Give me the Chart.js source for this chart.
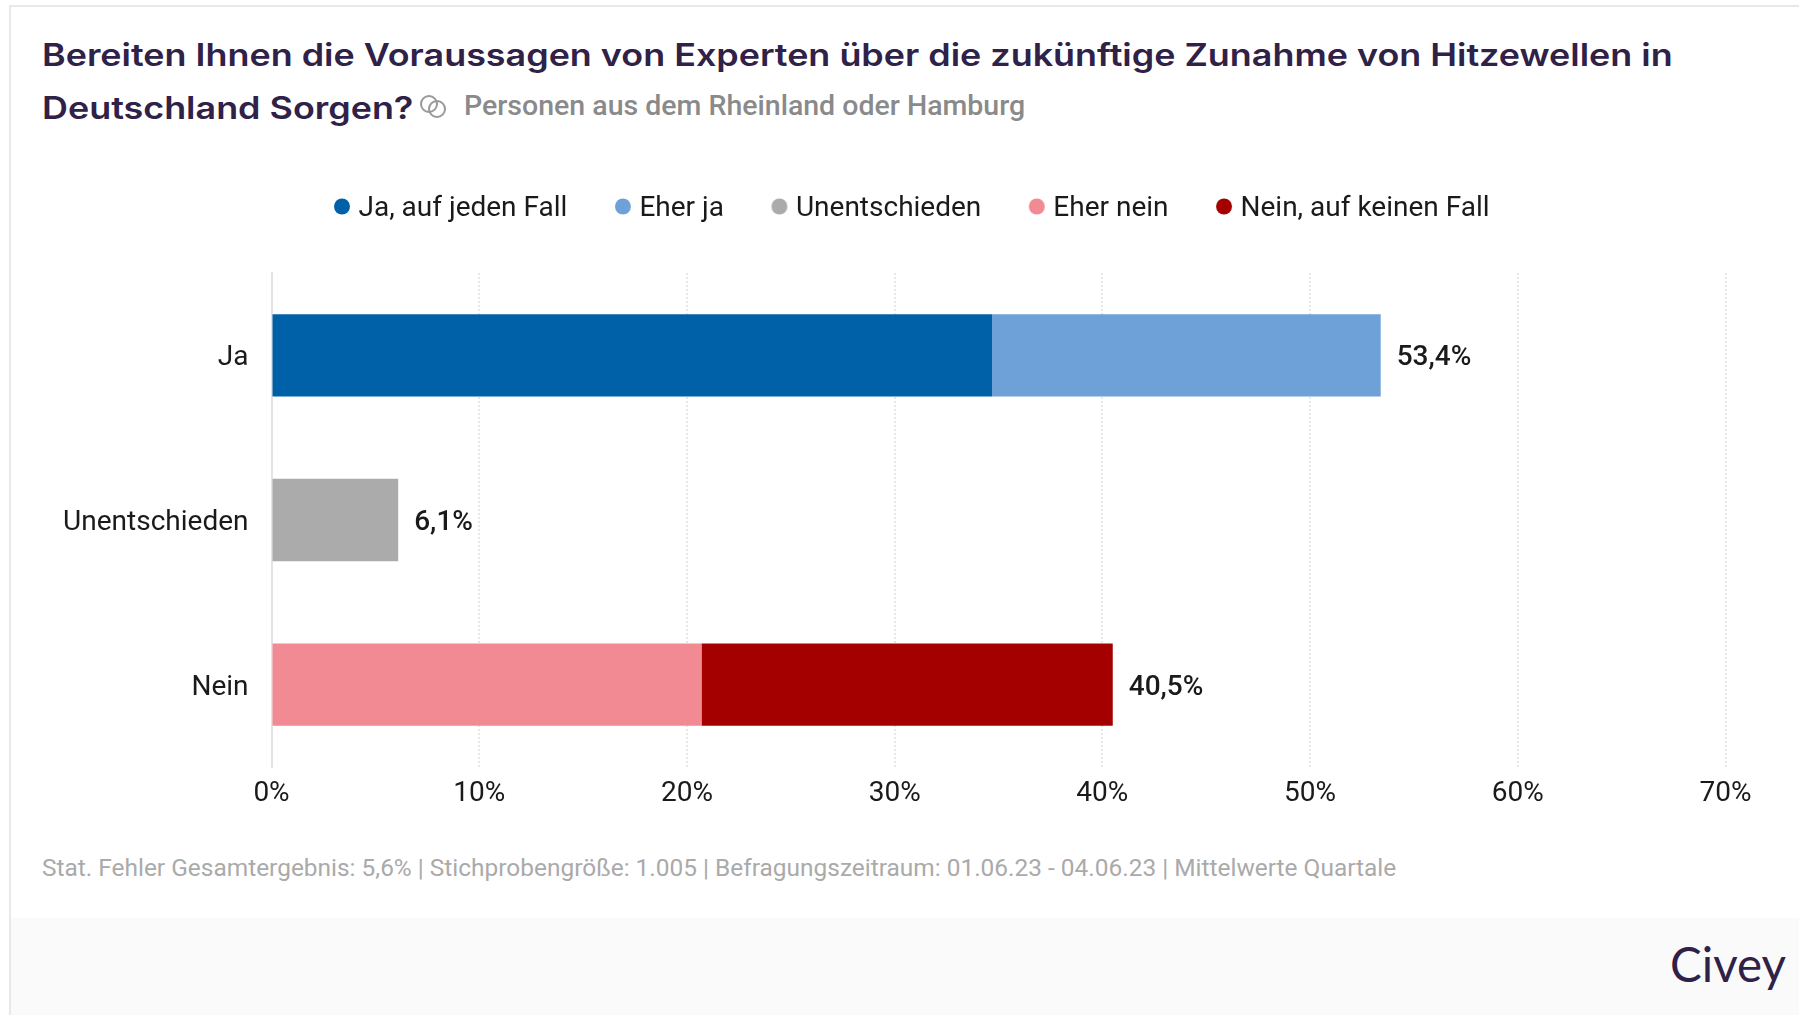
<!DOCTYPE html>
<html lang="de">
<head>
<meta charset="utf-8">
<title>Hitzewellen</title>
<script src="https://cdn.jsdelivr.net/npm/chart.js@4"></script>
<style>
  html, body { margin: 0; padding: 0; background: #fff; }
  body { width: 1799px; height: 1015px; position: relative; overflow: hidden; font-family: Roboto, sans-serif; }
  #card { position: absolute; left: 9px; top: 5px; width: 1800px; height: 1020px; border: 2px solid #e8e8e8; box-sizing: border-box; }
  #band { position: absolute; left: 11px; top: 918px; width: 1788px; height: 97px; background: #fafafa; }
  #title { position: absolute; left: 42px; top: 28px; white-space: nowrap; font: 600 31px/53px Inter, sans-serif; color: #2f2147; transform: scaleX(1.158); transform-origin: left top; }
  #icon { position: absolute; left: 420px; top: 93px; }
  #sub { position: absolute; left: 464px; top: 89px; white-space: nowrap; font: 500 28.5px Roboto, sans-serif; color: #8a8a8a; }
  #note { position: absolute; left: 42px; top: 853px; font-size: 24.45px; color: #aaaaaa; white-space: nowrap; }
  #logo { position: absolute; left: 1670px; top: 935px; font: 400 47.5px Lato, sans-serif; color: #2f2147; }
  canvas { position: absolute; left: 24px; top: 0; }
</style>
</head>
<body>
<div id="card"></div>
<div id="band"></div>
<div id="title">Bereiten Ihnen die Voraussagen von Experten über die zukünftige Zunahme von Hitzewellen in<br>Deutschland Sorgen?</div>
<svg id="icon" width="28" height="28" viewBox="0 0 28 28" fill="none" stroke="#999999" stroke-width="2"><circle cx="9" cy="11" r="8"/><circle cx="17" cy="16" r="8"/></svg>
<div id="sub">Personen aus dem Rheinland oder Hamburg</div>
<canvas id="chart" width="1775" height="840"></canvas>
<div id="note">Stat. Fehler Gesamtergebnis: 5,6% | Stichprobengröße: 1.005 | Befragungszeitraum: 01.06.23 - 04.06.23 | Mittelwerte Quartale</div>
<div id="logo">Civey</div>

<script>
const categories = ['Ja', 'Unentschieden', 'Nein'];
const jaAufJedenFall = [34.7, null, null];
const eherJa = [18.7, null, null];
const unentschieden = [null, 6.1, null];
const eherNein = [null, null, 20.7];
const neinAufKeinenFall = [null, null, 19.8];
const totalLabels = ['53,4%', '6,1%', '40,5%'];

const textColor = '#1a1a1a';

// Legendenpunkt als kleines Canvas, Kreis leicht versetzt damit er zur Textmitte passt
function legendDot(color) {
    const dot = document.createElement('canvas');
    dot.width = 30;
    dot.height = 30;
    const c = dot.getContext('2d');
    c.fillStyle = color;
    c.beginPath();
    c.arc(18, 12.5, 8, 0, Math.PI * 2);
    c.fill();
    return dot;
}

// Summen rechts neben die Balken schreiben
const totalsPlugin = {
    id: 'totals',
    beforeInit(chart) {
        const legend = chart.legend;
        // etwas Abstand zwischen Legende und Plot
        const fit = legend.fit;
        legend.fit = function () {
            fit.call(this);
            this.height += 40;
        };
        // Legende ist im Original nicht ueber dem Plot zentriert
        const draw = legend.draw;
        legend.draw = function () {
            const ctx = this.ctx;
            ctx.save();
            ctx.translate(28, 0);
            draw.call(this);
            ctx.restore();
        };
    },
    afterDatasetsDraw(chart) {
        const ctx = chart.ctx;
        ctx.save();
        ctx.font = '500 28px Roboto';
        ctx.fillStyle = textColor;
        ctx.textBaseline = 'middle';
        categories.forEach((cat, i) => {
            let bar = null;
            chart.data.datasets.forEach((ds, d) => {
                if (ds.data[i] !== null) bar = chart.getDatasetMeta(d).data[i];
            });
            ctx.fillText(totalLabels[i], bar.x + 16, bar.y + 3);
        });
        ctx.restore();
    }
};

function series(label, data, color) {
    return { label: label, data: data, backgroundColor: color, pointStyle: legendDot(color) };
}

new Chart(document.getElementById('chart').getContext('2d'), {
    type: 'bar',
    data: {
        labels: categories,
        datasets: [
            series('Ja, auf jeden Fall', jaAufJedenFall, '#0060a8'),
            series('Eher ja', eherJa, '#6fa1d9'),
            series('Unentschieden', unentschieden, '#ababab'),
            series('Eher nein', eherNein, '#f28a93'),
            series('Nein, auf keinen Fall', neinAufKeinenFall, '#a50000')
        ]
    },
    options: {
        indexAxis: 'y',
        responsive: false,
        animation: false,
        categoryPercentage: 0.5,
        barPercentage: 1,
        layout: { padding: { left: 17.5, right: 73.5, top: 148, bottom: 0 } },
        scales: {
            x: {
                stacked: true,
                min: 0,
                max: 70,
                afterFit(scale) { scale.height = 73; },
                grid: { color: '#e6e6e6', lineWidth: 2, drawTicks: false },
                border: { display: false, dash: [2, 2] },
                ticks: {
                    stepSize: 10,
                    padding: 10,
                    maxRotation: 0,
                    color: textColor,
                    font: { family: 'Roboto', size: 28 },
                    callback: (v) => v + '%'
                }
            },
            y: {
                stacked: true,
                afterFit(scale) { scale.width = 230; },
                grid: { display: false },
                border: { display: true, color: '#e4e4e4', width: 2 },
                ticks: {
                    padding: 15,
                    labelOffset: 3,
                    color: textColor,
                    font: { family: 'Roboto', size: 28 }
                }
            }
        },
        plugins: {
            tooltip: { enabled: false },
            legend: {
                position: 'top',
                labels: {
                    usePointStyle: true,
                    boxHeight: 11,
                    boxWidth: 11,
                    padding: 47,
                    color: textColor,
                    font: { family: 'Roboto', size: 28 }
                }
            }
        }
    },
    plugins: [totalsPlugin]
});
</script>
</body>
</html>
